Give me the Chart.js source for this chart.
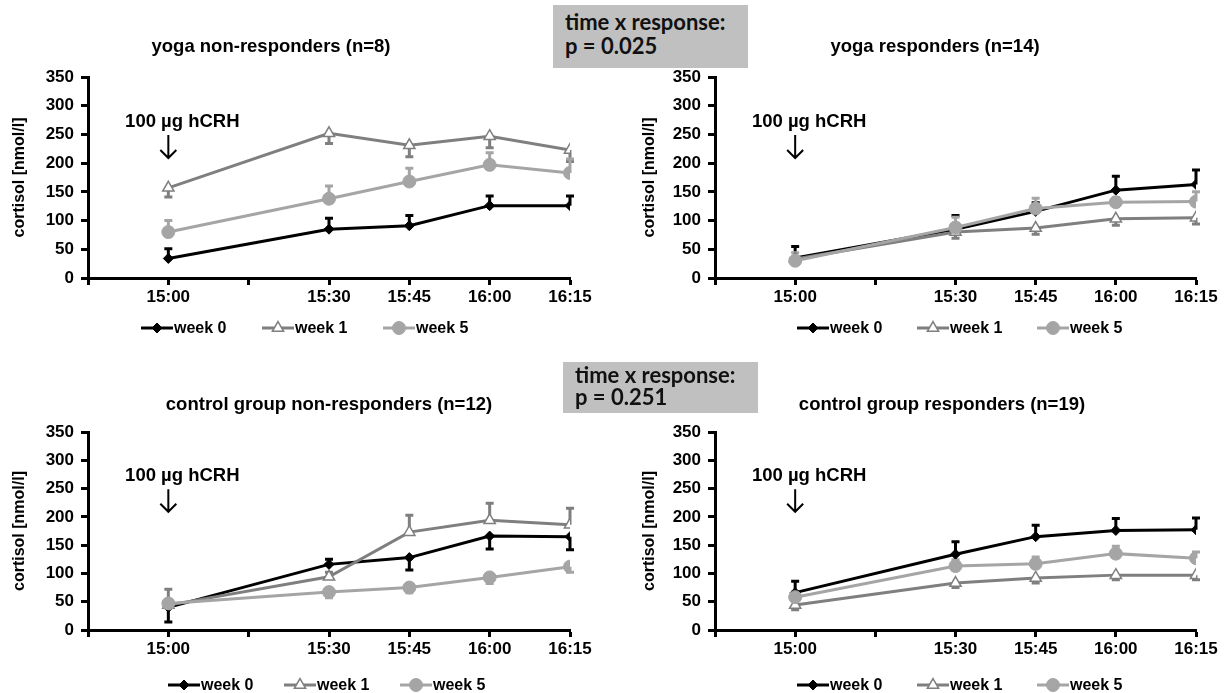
<!DOCTYPE html>
<html>
<head>
<meta charset="utf-8">
<script src="https://cdn.jsdelivr.net/npm/chart.js@4.4.0/dist/chart.umd.min.js"></script>
<style>
  body { margin: 0; background: #fff; width: 1226px; height: 693px; position: relative; overflow: hidden; }
  canvas { position: absolute; }
  .pbox { position: absolute; background: #c0c0c0; color: #111; font-family: Lato, "Open Sans", sans-serif;
          font-weight: bold; font-size: 22px; line-height: 24px; box-sizing: border-box; padding: 5px 0 0 12px; }
</style>
</head>
<body>
<canvas id="c1" width="600" height="345" style="left:0;top:0"></canvas>
<canvas id="c2" width="616" height="345" style="left:610px;top:0"></canvas>
<canvas id="c3" width="600" height="343" style="left:0;top:350px"></canvas>
<canvas id="c4" width="616" height="343" style="left:610px;top:350px"></canvas>
<div class="pbox" style="left:553px;top:5px;width:195px;height:63px">time x response:<br>p = 0.025</div>
<div class="pbox" style="left:563px;top:362px;width:195px;height:51px;line-height:22px;padding-top:2px">time x response:<br>p = 0.251</div>
<script>
// sampling times, minutes after 15:00
const timeMinutes = [0, 30, 45, 60, 75];
const tickLabels = { "-15": "", "0": "15:00", "15": "", "30": "15:30", "45": "15:45", "60": "16:00", "75": "16:15" };
const seriesNames = ["week 0", "week 1", "week 5"];

// yoga non-responders (n=8); error > 0 drawn up, < 0 drawn down
const yogaNon0 = [34, 85, 91, 126, 126];
const yogaNon0Err = [17, 19, 18, 17, 17];
const yogaNon1 = [157, 252, 231, 247, 223];
const yogaNon1Err = [-16, -18, -20, -20, -20];
const yogaNon5 = [80, 138, 168, 197, 183];
const yogaNon5Err = [20, 22, 23, 21, 24];

// yoga responders (n=14)
const yogaResp0 = [35, 85, 116, 153, 163];
const yogaResp0Err = [20, 24, 15, 24, 25];
const yogaResp1 = [33, 80, 87, 103, 105];
const yogaResp1Err = [-8, -11, -11, -11, -11];
const yogaResp5 = [30, 88, 121, 132, 133];
const yogaResp5Err = [14, 18, 18, 8, 17];

// control group non-responders (n=12)
const ctrlNon0 = [40, 116, 128, 166, 165];
const ctrlNon0Err = [-26, 9, -22, -23, -23];
const ctrlNon1 = [44, 94, 173, 194, 186];
const ctrlNon1Err = [28, 8, 30, 30, 29];
const ctrlNon5 = [47, 67, 75, 93, 112];
const ctrlNon5Err = [-8, -10, -9, -11, -10];

// control group responders (n=19)
const ctrlResp0 = [66, 134, 165, 176, 177];
const ctrlResp0Err = [20, 22, 20, 21, 21];
const ctrlResp1 = [44, 83, 92, 97, 97];
const ctrlResp1Err = [-8, -8, -9, -8, -8];
const ctrlResp5 = [58, 113, 117, 135, 127];
const ctrlResp5Err = [10, 11, 12, 13, 11];

const FONT = '"Liberation Sans", Arial, sans-serif';
const colors = ["#000000", "#7f7f7f", "#a5a5a5"];

// error bars under the lines
const errorBars = {
  id: "errorBars",
  beforeDatasetsDraw(chart) {
    const ctx = chart.ctx;
    const ys = chart.scales.y;
    chart.data.datasets.forEach((ds, i) => {
      const meta = chart.getDatasetMeta(i);
      ctx.save();
      ctx.strokeStyle = ds.borderColor;
      ctx.lineWidth = 3;
      meta.data.forEach((pt, j) => {
        const y1 = ys.getPixelForValue(ds.data[j].y + ds.errors[j]);
        ctx.beginPath();
        ctx.moveTo(pt.x, pt.y);
        ctx.lineTo(pt.x, y1);
        ctx.moveTo(pt.x - 4, y1);
        ctx.lineTo(pt.x + 4, y1);
        ctx.stroke();
      });
      ctx.restore();
    });
  }
};

// title, hCRH mark and legend
const panelText = {
  id: "panelText",
  afterDraw(chart, args, opts) {
    const ctx = chart.ctx;
    const xs = chart.scales.x, ys = chart.scales.y;
    ctx.save();
    ctx.fillStyle = "#000";
    ctx.textBaseline = "middle";
    ctx.textAlign = "center";
    ctx.font = "bold 18.5px " + FONT;
    ctx.fillText(opts.title, opts.titleX, opts.titleY);

    const x0 = xs.getPixelForValue(0);
    ctx.font = "bold 18.5px " + FONT;
    ctx.fillText("100 \u00b5g hCRH", x0 + 14, ys.getPixelForValue(272));
    const a1 = ys.getPixelForValue(249), a2 = ys.getPixelForValue(209);
    ctx.strokeStyle = "#000";
    ctx.lineWidth = 2;
    ctx.beginPath();
    ctx.moveTo(x0, a1);
    ctx.lineTo(x0, a2);
    ctx.moveTo(x0 - 8, a2 - 8);
    ctx.lineTo(x0, a2);
    ctx.lineTo(x0 + 8, a2 - 8);
    ctx.stroke();

    ctx.textAlign = "left";
    ctx.font = "bold 16px " + FONT;
    chart.data.datasets.forEach((ds, i) => {
      const lx = opts.legendX + i * opts.legendStep;
      const ly = opts.legendY;
      ctx.strokeStyle = ds.borderColor;
      ctx.lineWidth = 3;
      ctx.beginPath();
      ctx.moveTo(lx, ly);
      ctx.lineTo(lx + 32, ly);
      ctx.stroke();
      ctx.fillStyle = ds.pointBackgroundColor;
      ctx.strokeStyle = ds.pointBorderColor;
      ctx.lineWidth = ds.pointBorderWidth;
      Chart.helpers.drawPoint(ctx, { pointStyle: ds.pointStyle, radius: ds.pointRadius, rotation: 0, borderWidth: ds.pointBorderWidth }, lx + 16, ly);
      ctx.fillStyle = "#000";
      ctx.fillText(ds.label, lx + 33, ly + 1);
    });
    ctx.restore();
  }
};

function toPoints(values) {
  return values.map((v, i) => ({ x: timeMinutes[i], y: v }));
}

function makePanel(id, series, errs, text, pad, yWidth) {
  const styles = [
    { pointStyle: "rectRot", pointRadius: 5, pointBackgroundColor: colors[0], pointBorderColor: colors[0], pointBorderWidth: 1, order: 2 },
    { pointStyle: "triangle", pointRadius: 6.5, pointBackgroundColor: "#ffffff", pointBorderColor: colors[1], pointBorderWidth: 1.5, order: 1 },
    { pointStyle: "circle", pointRadius: 6.5, pointBackgroundColor: colors[2], pointBorderColor: colors[2], pointBorderWidth: 1, order: 0 }
  ];
  new Chart(document.getElementById(id), {
    type: "line",
    data: {
      datasets: series.map((vals, i) => Object.assign({
        label: seriesNames[i],
        data: toPoints(vals),
        errors: errs[i],
        borderColor: colors[i],
        borderWidth: 3,
        tension: 0
      }, styles[i]))
    },
    options: {
      responsive: false,
      animation: false,
      events: [],
      layout: { padding: pad },
      plugins: {
        legend: { display: false },
        title: { display: false },
        tooltip: { enabled: false },
        panelText: text
      },
      scales: {
        x: {
          type: "linear",
          min: -15,
          max: 75,
          afterFit: (s) => { s.height = 30; },
          ticks: {
            stepSize: 15,
            autoSkip: false,
            maxRotation: 0,
            padding: 2,
            color: "#000",
            font: { family: FONT, size: 17, weight: "bold" },
            callback: (v) => tickLabels[String(v)]
          },
          grid: { drawOnChartArea: false, tickLength: 7, tickWidth: 3, tickColor: "#000" },
          border: { color: "#000", width: 3 }
        },
        y: {
          min: 0,
          max: 350,
          afterFit: (s) => { s.width = yWidth; },
          ticks: {
            stepSize: 50,
            padding: 7,
            color: "#000",
            font: { family: FONT, size: 17, weight: "bold" }
          },
          title: {
            display: true,
            text: "cortisol [nmol/l]",
            color: "#000",
            padding: { top: 2, bottom: 2 },
            font: { family: FONT, size: 16, weight: "bold" }
          },
          grid: { drawOnChartArea: false, tickLength: 7, tickWidth: 3, tickColor: "#000" },
          border: { color: "#000", width: 3 }
        }
      }
    },
    plugins: [errorBars, panelText]
  });
}

makePanel("c1",
  [yogaNon0, yogaNon1, yogaNon5], [yogaNon0Err, yogaNon1Err, yogaNon5Err],
  { title: "yoga non-responders (n=8)", titleX: 271, titleY: 47, legendX: 141, legendStep: 121, legendY: 328 },
  { left: 8, right: 30, top: 77, bottom: 37 }, 80);

makePanel("c2",
  [yogaResp0, yogaResp1, yogaResp5], [yogaResp0Err, yogaResp1Err, yogaResp5Err],
  { title: "yoga responders (n=14)", titleX: 325, titleY: 47, legendX: 187, legendStep: 120, legendY: 328 },
  { left: 28, right: 30, top: 77, bottom: 37 }, 77);

makePanel("c3",
  [ctrlNon0, ctrlNon1, ctrlNon5], [ctrlNon0Err, ctrlNon1Err, ctrlNon5Err],
  { title: "control group non-responders (n=12)", titleX: 329, titleY: 55, legendX: 168, legendStep: 116, legendY: 335 },
  { left: 8, right: 30, top: 82, bottom: 33 }, 80);

makePanel("c4",
  [ctrlResp0, ctrlResp1, ctrlResp5], [ctrlResp0Err, ctrlResp1Err, ctrlResp5Err],
  { title: "control group responders (n=19)", titleX: 332, titleY: 55, legendX: 187, legendStep: 120, legendY: 335 },
  { left: 28, right: 30, top: 82, bottom: 33 }, 77);
</script>
</body>
</html>
